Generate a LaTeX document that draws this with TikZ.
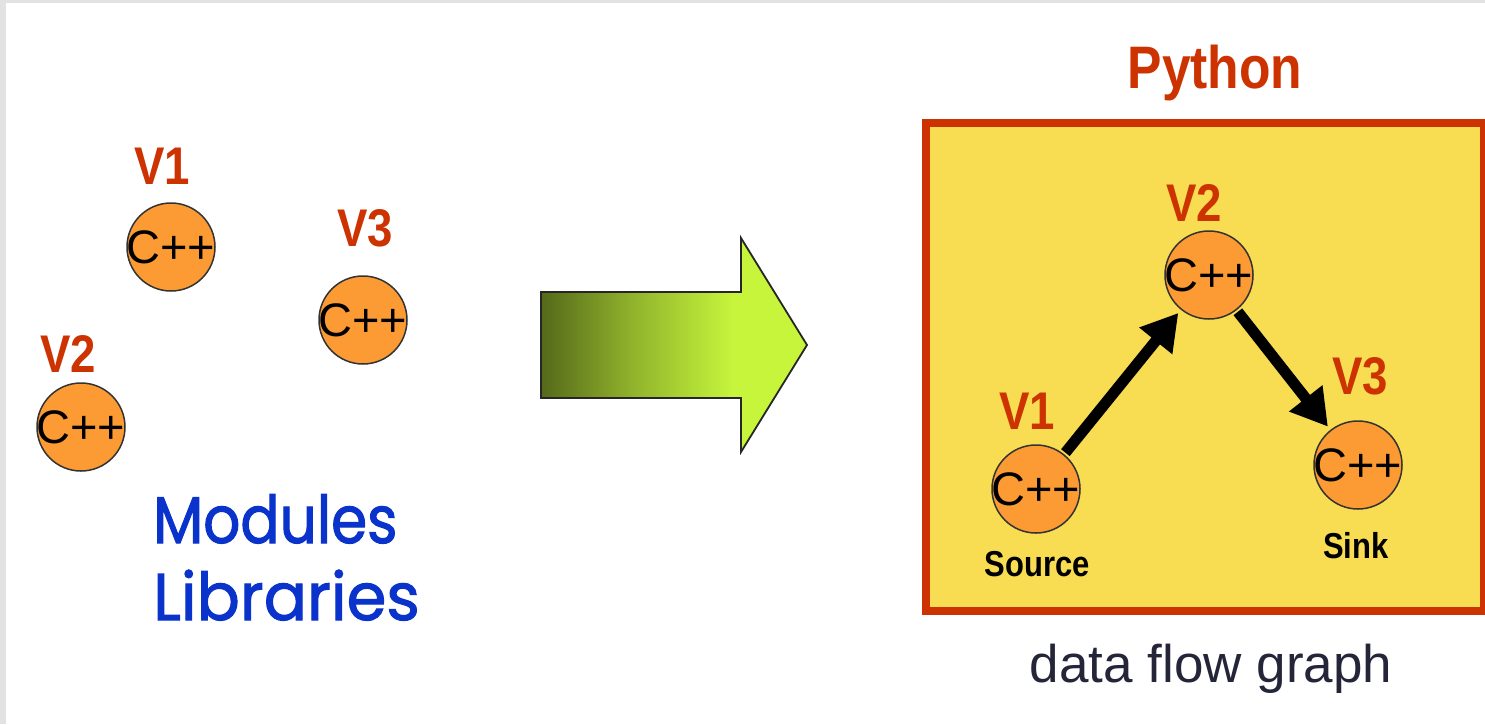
\documentclass[tikz,border=0pt]{standalone}
\usepackage{fontspec}
\setmainfont{Liberation Sans}
\newfontfamily\lblfont{Liberation Sans}[FakeStretch=0.86]
\newfontfamily\cppfont{Liberation Sans}
\newfontfamily\comicfont{Poppins}[FakeStretch=0.88, FakeBold=1.6]
\newfontfamily\comicwide{Poppins}[FakeStretch=0.97, FakeBold=1.6]
\usetikzlibrary{arrows.meta}

\definecolor{pagegray}{HTML}{E2E2E2}
\definecolor{vred}{HTML}{CC3300}
\definecolor{boxfill}{HTML}{F8DC52}
\definecolor{nodeorange}{HTML}{FC9A33}
\definecolor{modblue}{HTML}{0A33CC}
\definecolor{captiontext}{HTML}{25253A}
\definecolor{olivedark}{HTML}{55691A}
\definecolor{limebright}{HTML}{C6F53C}

% horizontal gradient of the transition arrow (dark olive -> lime)
\pgfdeclarehorizontalshading{transition}{100bp}{%
  color(0bp)=(olivedark); color(25bp)=(olivedark);
  color(43bp)=(olivedark!45!limebright);
  color(61bp)=(limebright); color(100bp)=(limebright)}

\tikzset{
  module/.style={circle, fill=nodeorange, draw=black!80, line width=1.5pt,
    minimum size=88pt, inner sep=0pt,
    label={[font=\cppfont\fontsize{47}{47}\selectfont, inner sep=0pt]center:C++}},
  vlabel/.style={font=\lblfont\bfseries\fontsize{53}{53}\selectfont,
    text=vred, inner sep=0pt},
  rolelabel/.style={font=\lblfont\bfseries\fontsize{36}{36}\selectfont,
    text=black, inner sep=0pt},
  flow/.style={line width=11pt, -{Triangle[length=36pt,width=40pt]},
    shorten <=2pt, shorten >=4pt}
}

\begin{document}
\begin{tikzpicture}[x=1pt, y=-1pt]
  \useasboundingbox (0,0) rectangle (1485,724);
  % page background with its thin grey margin
  \fill[pagegray] (0,0) rectangle (1485,724);
  \fill[white] (6,3) rectangle (1485,724);

  % ---- loose modules ----
  \node[vlabel] (lv1) at (162,166) {V1};
  \node[module] (m1) at (171,247) {};
  \node[vlabel] (lv3) at (365,228) {V3};
  \node[module] (m3) at (363,320) {};
  \node[vlabel] (lv2) at (68,354) {V2};
  \node[module] (m2) at (81,427) {};

  \node[font=\comicfont\fontsize{66}{66}\selectfont, text=modblue,
    anchor=base west, inner sep=0pt] (mods) at (153,543) {Modules};
  \node[font=\comicwide\fontsize{66}{66}\selectfont, text=modblue,
    anchor=base west, inner sep=0pt] (libs) at (153,620) {Libraries};

  % ---- transition arrow ----
  \shade[shading=transition, draw=black!85, line width=1.8pt, line join=miter]
    (541,292) -- (741,292) -- (741,238) -- (807,345) -- (741,452)
    -- (741,398) -- (541,398) -- cycle;

  % ---- python data flow graph ----
  \node[font=\lblfont\bfseries\fontsize{60}{60}\selectfont, text=vred,
    anchor=base, inner sep=0pt] (py) at (1215,88) {Python};
  \draw[draw=vred, line width=8pt, fill=boxfill] (926,122.5) rectangle (1484,611);

  \node[vlabel] (gl2) at (1194,203) {V2};
  \node[module] (g2) at (1209,275) {};
  \node[vlabel] (gl1) at (1027,411) {V1};
  \node[module] (g1) at (1036,489) {};
  \node[vlabel] (gl3) at (1360,376) {V3};
  \node[module] (g3) at (1358,465) {};

  \node[rolelabel] (src) at (1037,564) {Source};
  \node[rolelabel] (snk) at (1356,546) {Sink};

  \draw[flow] (g1) -- (g2);
  \draw[flow] (g2) -- (g3);

  \node[font=\fontsize{53}{53}\selectfont, text=captiontext,
    anchor=base, inner sep=0pt] (cap) at (1211,682) {data flow graph};
\end{tikzpicture}
\end{document}
